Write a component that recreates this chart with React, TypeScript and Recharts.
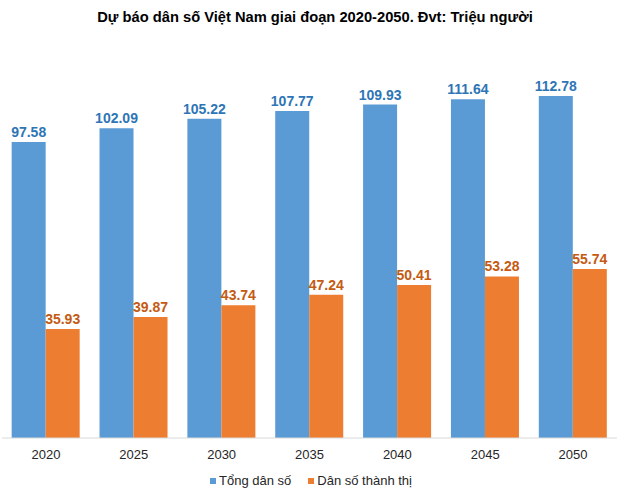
import { Bar, BarChart, LabelList, XAxis, YAxis } from "recharts";

const years = ["2020", "2025", "2030", "2035", "2040", "2045", "2050"];
const tongDanSo = [97.58, 102.09, 105.22, 107.77, 109.93, 111.64, 112.78];
const thanhThi = [35.93, 39.87, 43.74, 47.24, 50.41, 53.28, 55.74];

const data = years.map((year, i) => ({
  year,
  tong: tongDanSo[i],
  thanhThi: thanhThi[i],
}));

const font = "'Liberation Sans', Arial, sans-serif";

export default function App() {
  return (
    <div
      style={{
        position: "absolute",
        left: 0,
        top: 0,
        width: 620,
        height: 493,
        background: "#fff",
        fontFamily: font,
      }}
    >
      <div
        style={{
          position: "absolute",
          left: 0,
          top: 9,
          width: 630,
          textAlign: "center",
          fontSize: 14.7,
          fontWeight: "bold",
          color: "#000",
          whiteSpace: "nowrap",
        }}
      >
        Dự báo dân số Việt Nam giai đoạn 2020-2050. Đvt: Triệu người
      </div>
      <BarChart
        width={620}
        height={493}
        data={data}
        margin={{ top: 74, right: 3, left: 2, bottom: 25 }}
        barCategoryGap="11%"
        barGap={0}
      >
        <XAxis
          dataKey="year"
          height={30}
          tickLine={false}
          axisLine={{ stroke: "#d9d9d9" }}
          tick={{ fontSize: 13, fill: "#262626", fontFamily: font }}
          tickMargin={6}
        />
        <YAxis hide domain={[0, 120]} />
        <Bar dataKey="tong" fill="#5b9bd5" isAnimationActive={false}>
          <LabelList
            dataKey="tong"
            position="top"
            formatter={(v: number) => v.toFixed(2)}
            style={{ fontSize: 14, fontWeight: "bold", fill: "#2e75b6", fontFamily: font }}
          />
        </Bar>
        <Bar dataKey="thanhThi" fill="#ed7d31" isAnimationActive={false}>
          <LabelList
            dataKey="thanhThi"
            position="top"
            formatter={(v: number) => v.toFixed(2)}
            style={{ fontSize: 14, fontWeight: "bold", fill: "#c55a11", fontFamily: font }}
          />
        </Bar>
      </BarChart>
      <div
        style={{
          position: "absolute",
          left: 0,
          top: 473,
          width: 622,
          display: "flex",
          justifyContent: "center",
          fontSize: 13,
          color: "#262626",
          gap: 17,
        }}
      >
        <span style={{ display: "flex", alignItems: "center" }}>
          <span style={{ width: 6, height: 6, background: "#5b9bd5", marginRight: 3 }} />
          Tổng dân số
        </span>
        <span style={{ display: "flex", alignItems: "center" }}>
          <span style={{ width: 6, height: 6, background: "#ed7d31", marginRight: 3 }} />
          Dân số thành thị
        </span>
      </div>
    </div>
  );
}
